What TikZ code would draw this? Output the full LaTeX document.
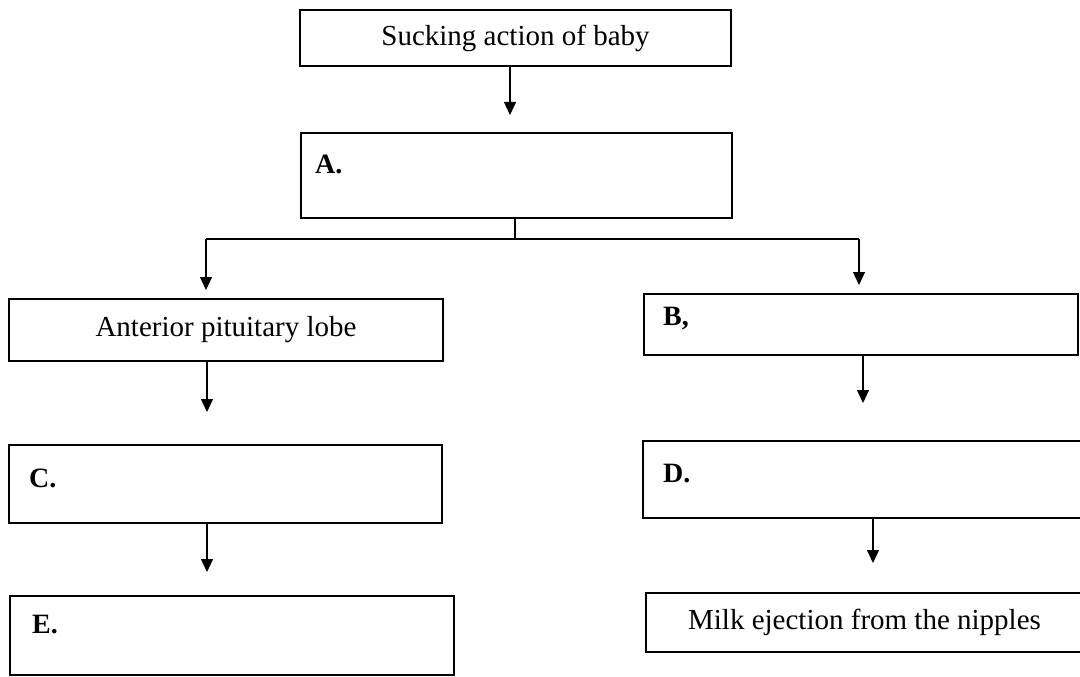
\documentclass[tikz,border=0pt]{standalone}
\usepackage{fontspec}
\setmainfont{Liberation Serif}
\usetikzlibrary{arrows.meta}
\begin{document}
\begin{tikzpicture}[x=1pt,y=-1pt,
  box/.style={draw, line width=1.2pt, inner sep=0pt, font=\fontsize{29}{34}\selectfont},
  tag/.style={anchor=base west, inner sep=0pt, font=\fontsize{28}{34}\selectfont\bfseries},
  arr/.style={line width=1.2pt, -{Triangle[width=12pt,length=13pt]}},
  ln/.style={line width=1.2pt}]
\useasboundingbox (0,0) rectangle (1080,677);
\clip (0,0) rectangle (1080,677);
% boxes
\node[box, minimum width=431pt, minimum height=56pt] (top) at (515.5,38) {Sucking action of baby};
\node[box, minimum width=431pt, minimum height=85pt] (A) at (516.5,175.5) {};
\node[box, minimum width=434pt, minimum height=62pt] (ant) at (226,330) {Anterior pituitary lobe};
\node[box, minimum width=434pt, minimum height=61pt] (B) at (861,324.5) {};
\node[box, minimum width=433pt, minimum height=78pt] (C) at (225.5,484) {};
\node[box, minimum width=440pt, minimum height=77pt] (D) at (863,479.5) {};
\node[box, minimum width=444pt, minimum height=79pt] (E) at (232,635.5) {};
\node[box, minimum width=437pt, minimum height=59pt] (milk) at (864.5,622.5) {Milk ejection from the nipples};
% labels
\node[tag] (la) at (315,173) {A.};
\node[tag] (lb) at (663,325) {B,};
\node[tag] (lc) at (29,487) {C.};
\node[tag] (ld) at (663,482) {D.};
\node[tag] (le) at (32,633) {E.};
% connectors
\coordinate (t1) at (510,115);
\draw[arr] (top.south -| t1) -- (t1);
\coordinate (split) at (515,239);
\coordinate (hl) at (206,239);
\coordinate (hr) at (859,239);
\draw[ln] (A.south -| split) -- (split);
\draw[ln] (hl) -- (hr);
\coordinate (tl) at (206,290);
\coordinate (tr) at (859,285);
\draw[arr] (hl) -- (tl);
\draw[arr] (hr) -- (tr);
\coordinate (t3) at (207,412);
\draw[arr] (ant.south -| t3) -- (t3);
\coordinate (t4) at (863,403);
\draw[arr] (B.south -| t4) -- (t4);
\coordinate (t5) at (207,572);
\draw[arr] (C.south -| t5) -- (t5);
\coordinate (t6) at (873,563);
\draw[arr] (D.south -| t6) -- (t6);
\end{tikzpicture}
\end{document}
